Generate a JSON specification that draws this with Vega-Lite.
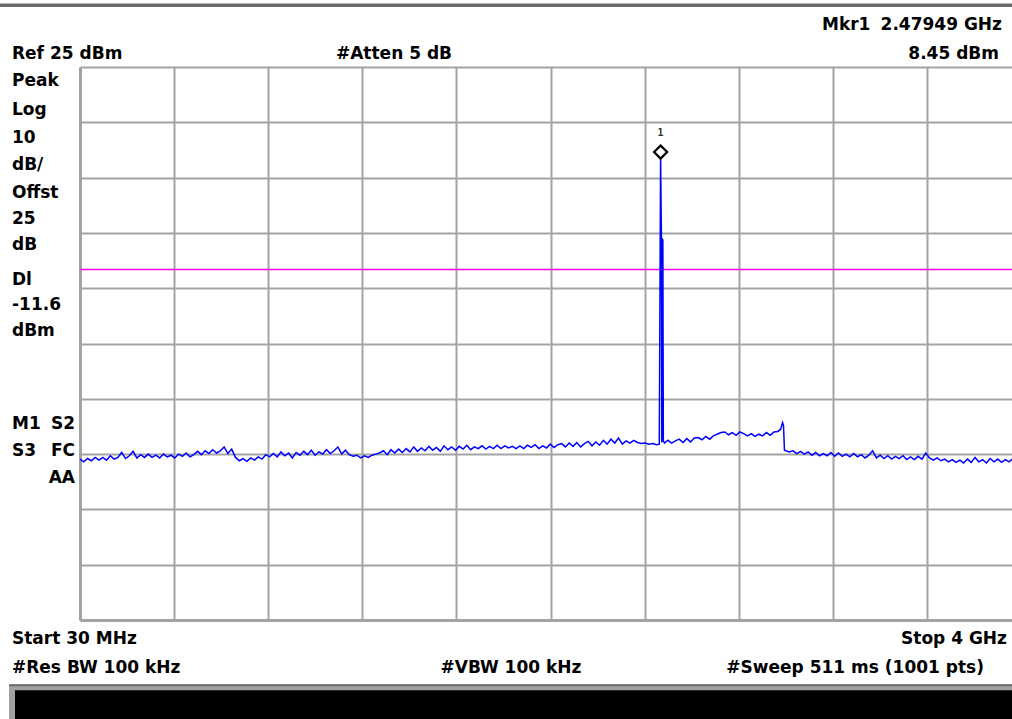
{
  "$schema": "https://vega.github.io/schema/vega-lite/v6.json",
  "width": 932,
  "height": 553,
  "autosize": {"type": "none"},
  "padding": {"left": 80, "top": 67, "right": 0, "bottom": 99},
  "background": "white",
  "config": {
    "view": {"stroke": null},
    "axis": {"labels": false, "ticks": false, "domain": false, "grid": true, "gridColor": "#a3a3a3", "gridWidth": 2, "gridOpacity": 1},
    "text": {"font": "DejaVu Sans", "fontWeight": "bold", "fontSize": 17, "color": "black", "baseline": "middle"}
  },
  "datasets": {
    "trace": [
      {"f":30,"p":-45.9},{"f":46,"p":-46.4},{"f":62,"p":-45.8},{"f":78,"p":-46.2},{"f":94,"p":-45.6},{"f":110,"p":-46.1},{"f":126,"p":-45.6},{"f":142,"p":-46.1},{"f":158,"p":-45.3},{"f":174,"p":-45.9},
      {"f":190,"p":-45.6},{"f":206,"p":-44.7},{"f":222,"p":-45.8},{"f":238,"p":-45.3},{"f":254,"p":-44.5},{"f":270,"p":-45.7},{"f":286,"p":-45.1},{"f":302,"p":-45.6},{"f":318,"p":-45.0},{"f":334,"p":-45.6},
      {"f":350,"p":-45.2},{"f":366,"p":-45.7},{"f":382,"p":-45.0},{"f":398,"p":-45.5},{"f":414,"p":-45.2},{"f":430,"p":-45.7},{"f":446,"p":-45.0},{"f":462,"p":-45.4},{"f":478,"p":-44.8},{"f":494,"p":-45.5},
      {"f":510,"p":-45.1},{"f":526,"p":-44.5},{"f":542,"p":-45.1},{"f":558,"p":-44.4},{"f":574,"p":-44.9},{"f":590,"p":-44.2},{"f":606,"p":-44.8},{"f":622,"p":-44.4},{"f":638,"p":-43.7},{"f":654,"p":-44.9},
      {"f":670,"p":-44.1},{"f":686,"p":-45.6},{"f":702,"p":-46.2},{"f":718,"p":-45.8},{"f":734,"p":-46.3},{"f":750,"p":-45.7},{"f":766,"p":-46.1},{"f":782,"p":-45.5},{"f":798,"p":-45.9},{"f":814,"p":-45.1},
      {"f":830,"p":-45.5},{"f":846,"p":-44.9},{"f":862,"p":-45.5},{"f":878,"p":-44.6},{"f":894,"p":-45.3},{"f":910,"p":-44.8},{"f":926,"p":-45.7},{"f":942,"p":-44.7},{"f":958,"p":-45.2},{"f":974,"p":-44.5},
      {"f":990,"p":-45.1},{"f":1006,"p":-44.3},{"f":1022,"p":-45.2},{"f":1038,"p":-44.6},{"f":1054,"p":-45.0},{"f":1070,"p":-44.2},{"f":1086,"p":-44.9},{"f":1102,"p":-44.4},{"f":1118,"p":-43.7},{"f":1134,"p":-45.0},
      {"f":1150,"p":-44.3},{"f":1166,"p":-45.1},{"f":1182,"p":-45.4},{"f":1198,"p":-45.2},{"f":1214,"p":-45.7},{"f":1230,"p":-45.3},{"f":1246,"p":-45.6},{"f":1262,"p":-45.2},{"f":1278,"p":-45.0},{"f":1294,"p":-44.8},
      {"f":1310,"p":-44.4},{"f":1326,"p":-45.1},{"f":1342,"p":-44.2},{"f":1358,"p":-44.8},{"f":1374,"p":-44.1},{"f":1390,"p":-44.7},{"f":1406,"p":-44.0},{"f":1422,"p":-44.6},{"f":1438,"p":-43.7},{"f":1454,"p":-44.5},
      {"f":1470,"p":-43.9},{"f":1486,"p":-44.4},{"f":1502,"p":-43.6},{"f":1518,"p":-44.3},{"f":1534,"p":-43.8},{"f":1550,"p":-44.5},{"f":1566,"p":-43.5},{"f":1582,"p":-44.2},{"f":1598,"p":-43.7},{"f":1614,"p":-44.3},
      {"f":1630,"p":-43.6},{"f":1646,"p":-44.1},{"f":1662,"p":-43.4},{"f":1678,"p":-44.2},{"f":1694,"p":-43.7},{"f":1710,"p":-44.0},{"f":1726,"p":-43.5},{"f":1742,"p":-44.1},{"f":1758,"p":-43.6},{"f":1774,"p":-44.0},
      {"f":1790,"p":-43.4},{"f":1806,"p":-44.0},{"f":1822,"p":-43.5},{"f":1838,"p":-43.9},{"f":1854,"p":-43.6},{"f":1870,"p":-44.0},{"f":1886,"p":-43.5},{"f":1902,"p":-44.0},{"f":1918,"p":-43.4},{"f":1934,"p":-43.8},
      {"f":1950,"p":-43.3},{"f":1966,"p":-44.0},{"f":1982,"p":-43.5},{"f":1998,"p":-43.9},{"f":2014,"p":-43.2},{"f":2030,"p":-43.8},{"f":2046,"p":-43.3},{"f":2062,"p":-43.1},{"f":2078,"p":-43.7},{"f":2094,"p":-43.0},
      {"f":2110,"p":-43.6},{"f":2126,"p":-42.9},{"f":2142,"p":-43.7},{"f":2158,"p":-43.1},{"f":2174,"p":-42.7},{"f":2190,"p":-43.5},{"f":2206,"p":-42.8},{"f":2222,"p":-43.4},{"f":2238,"p":-42.5},{"f":2254,"p":-43.2},
      {"f":2270,"p":-42.3},{"f":2286,"p":-43.0},{"f":2302,"p":-42.1},{"f":2318,"p":-43.2},{"f":2334,"p":-42.6},{"f":2350,"p":-43.0},{"f":2366,"p":-42.5},{"f":2382,"p":-42.9},{"f":2398,"p":-43.1},{"f":2414,"p":-43.0},
      {"f":2430,"p":-43.2},{"f":2446,"p":-43.1},{"f":2462,"p":-43.3},{"f":2474,"p":-43.2},{"f":2479.49,"p":8.45},{"f":2483,"p":-6.1},{"f":2484.5,"p":-42.9},{"f":2486,"p":-6.0},{"f":2489,"p":-6.3},{"f":2491,"p":-42.6},{"f":2496,"p":-43.0},
      {"f":2510,"p":-42.5},{"f":2526,"p":-43.0},{"f":2542,"p":-42.6},{"f":2558,"p":-42.3},{"f":2574,"p":-42.9},{"f":2590,"p":-42.2},{"f":2606,"p":-42.8},{"f":2622,"p":-42.1},{"f":2638,"p":-42.0},{"f":2654,"p":-42.4},
      {"f":2670,"p":-41.8},{"f":2686,"p":-42.3},{"f":2702,"p":-41.7},{"f":2718,"p":-41.4},{"f":2734,"p":-41.1},{"f":2750,"p":-41.0},{"f":2766,"p":-41.5},{"f":2782,"p":-41.1},{"f":2798,"p":-41.6},{"f":2814,"p":-41.0},
      {"f":2830,"p":-41.3},{"f":2846,"p":-41.7},{"f":2862,"p":-41.3},{"f":2878,"p":-41.8},{"f":2894,"p":-41.4},{"f":2910,"p":-41.7},{"f":2926,"p":-41.1},{"f":2942,"p":-41.6},{"f":2958,"p":-41.0},{"f":2974,"p":-40.9},
      {"f":2986,"p":-40.5},{"f":2994,"p":-39.3},{"f":2998,"p":-39.8},{"f":3002,"p":-44.3},
      {"f":3022,"p":-44.6},{"f":3038,"p":-44.4},{"f":3054,"p":-44.9},{"f":3070,"p":-44.5},{"f":3086,"p":-45.0},{"f":3102,"p":-44.6},{"f":3118,"p":-45.2},{"f":3134,"p":-44.7},{"f":3150,"p":-45.3},{"f":3166,"p":-44.9},
      {"f":3182,"p":-45.3},{"f":3198,"p":-44.7},{"f":3214,"p":-45.4},{"f":3230,"p":-44.8},{"f":3246,"p":-45.4},{"f":3262,"p":-45.0},{"f":3278,"p":-45.5},{"f":3294,"p":-44.9},{"f":3310,"p":-45.5},{"f":3326,"p":-45.1},
      {"f":3342,"p":-45.7},{"f":3358,"p":-45.2},{"f":3374,"p":-44.4},{"f":3390,"p":-45.7},{"f":3406,"p":-45.2},{"f":3422,"p":-45.8},{"f":3438,"p":-45.3},{"f":3454,"p":-45.9},{"f":3470,"p":-45.4},{"f":3486,"p":-45.8},
      {"f":3502,"p":-45.3},{"f":3518,"p":-46.0},{"f":3534,"p":-45.5},{"f":3550,"p":-46.0},{"f":3566,"p":-45.4},{"f":3582,"p":-45.9},{"f":3598,"p":-44.8},{"f":3614,"p":-45.7},{"f":3630,"p":-46.1},{"f":3646,"p":-45.7},
      {"f":3662,"p":-46.2},{"f":3678,"p":-45.9},{"f":3694,"p":-46.4},{"f":3710,"p":-46.0},{"f":3726,"p":-46.5},{"f":3742,"p":-46.1},{"f":3758,"p":-46.6},{"f":3774,"p":-45.9},{"f":3790,"p":-46.5},{"f":3806,"p":-45.6},
      {"f":3822,"p":-46.4},{"f":3838,"p":-46.0},{"f":3854,"p":-46.6},{"f":3870,"p":-45.8},{"f":3886,"p":-46.4},{"f":3902,"p":-45.9},{"f":3918,"p":-46.5},{"f":3934,"p":-46.0},{"f":3950,"p":-46.4},{"f":3966,"p":-45.8},
      {"f":3982,"p":-46.3},{"f":3998,"p":-46.0},{"f":4000,"p":-46.1}
    ],
    "marker": [{"f": 2479.49, "p": 8.45, "id": "1"}],
    "display": [{"p": -11.6}],
    "one": [{}]
  },
  "layer": [
    {
      "data": {"name": "display"},
      "mark": {"type": "rule", "color": "#ff00ff", "strokeWidth": 1.5},
      "encoding": {
        "y": {"field": "p", "type": "quantitative", "title": null,
              "scale": {"domain": [-75, 25], "nice": false, "zero": false},
              "axis": {"values": [-75, -65, -55, -45, -35, -25, -15, -5, 5, 15, 25], "domain": true, "domainColor": "#a3a3a3", "domainWidth": 3}}
      }
    },
    {
      "data": {"name": "trace"},
      "mark": {"type": "line", "color": "#0000ff", "strokeWidth": 1.5, "interpolate": "linear"},
      "encoding": {
        "x": {"field": "f", "type": "quantitative", "title": null,
              "scale": {"domain": [30, 3962], "nice": false, "zero": false},
              "axis": {"values": [30, 427, 824, 1221, 1618, 2015, 2412, 2809, 3206, 3603], "domain": true, "domainColor": "#a3a3a3", "domainWidth": 3}},
        "y": {"field": "p", "type": "quantitative", "title": null,
              "scale": {"domain": [-75, 25], "nice": false, "zero": false},
              "axis": {"values": [-75, -65, -55, -45, -35, -25, -15, -5, 5, 15, 25], "domain": true, "domainColor": "#a3a3a3", "domainWidth": 3}}
      }
    },
    {
      "data": {"name": "marker"},
      "mark": {"type": "point", "shape": "diamond", "filled": false, "stroke": "black", "strokeWidth": 2.3, "size": 170, "yOffset": -6.5, "opacity": 1},
      "encoding": {
        "x": {"field": "f", "type": "quantitative", "title": null},
        "y": {"field": "p", "type": "quantitative", "title": null}
      }
    },
    {
      "data": {"name": "marker"},
      "mark": {"type": "text", "font": "DejaVu Sans Mono", "fontWeight": "bold", "fontSize": 10, "yOffset": -26, "color": "#333333"},
      "encoding": {
        "x": {"field": "f", "type": "quantitative", "title": null},
        "y": {"field": "p", "type": "quantitative", "title": null},
        "text": {"field": "id"}
      }
    },
    {"data": {"name": "one"}, "mark": {"type": "rect", "color": "#6a6a6a"},
     "encoding": {"x": {"datum": -400, "type": "quantitative", "title": null}, "x2": {"datum": 4100}, "y": {"datum": 36.5, "type": "quantitative", "title": null}, "y2": {"datum": 35.85}}},
    {"data": {"name": "one"}, "mark": {"type": "rect", "color": "#a0a0a0"},
     "encoding": {"x": {"datum": -269.5, "type": "quantitative", "title": null}, "x2": {"datum": 4100}, "y": {"datum": -86.6, "type": "quantitative", "title": null}, "y2": {"datum": -96}}},
    {"data": {"name": "one"}, "mark": {"type": "rect", "color": "#6e6e6e"},
     "encoding": {"x": {"datum": -269.5, "type": "quantitative", "title": null}, "x2": {"datum": 4100}, "y": {"datum": -86.6, "type": "quantitative", "title": null}, "y2": {"datum": -87.0}}},
    {"data": {"name": "one"}, "mark": {"type": "rect", "color": "#000000"},
     "encoding": {"x": {"datum": -244.2, "type": "quantitative", "title": null}, "x2": {"datum": 4100}, "y": {"datum": -87.7, "type": "quantitative", "title": null}, "y2": {"datum": -96}}},

    {"data": {"name": "one"}, "mark": {"type": "text", "text": "Ref 25 dBm", "align": "left"},
     "encoding": {"x": {"datum": -256.9, "type": "quantitative", "title": null}, "y": {"datum": 27.4, "type": "quantitative", "title": null}}},
    {"data": {"name": "one"}, "mark": {"type": "text", "text": "#Atten 5 dB", "align": "center"},
     "encoding": {"x": {"datum": 1354.7, "type": "quantitative", "title": null}, "y": {"datum": 27.4, "type": "quantitative", "title": null}}},
    {"data": {"name": "one"}, "mark": {"type": "text", "text": "Mkr1", "align": "left"},
     "encoding": {"x": {"datum": 3160.4, "type": "quantitative", "title": null}, "y": {"datum": 32.6, "type": "quantitative", "title": null}}},
    {"data": {"name": "one"}, "mark": {"type": "text", "text": "2.47949 GHz", "align": "right"},
     "encoding": {"x": {"datum": 3919.8, "type": "quantitative", "title": null}, "y": {"datum": 32.6, "type": "quantitative", "title": null}}},
    {"data": {"name": "one"}, "mark": {"type": "text", "text": "8.45 dBm", "align": "right"},
     "encoding": {"x": {"datum": 3907.2, "type": "quantitative", "title": null}, "y": {"datum": 27.4, "type": "quantitative", "title": null}}},

    {"data": {"name": "one"}, "mark": {"type": "text", "text": "Peak", "align": "left"},
     "encoding": {"x": {"datum": -256.9, "type": "quantitative", "title": null}, "y": {"datum": 22.5, "type": "quantitative", "title": null}}},
    {"data": {"name": "one"}, "mark": {"type": "text", "text": "Log", "align": "left"},
     "encoding": {"x": {"datum": -256.9, "type": "quantitative", "title": null}, "y": {"datum": 17.3, "type": "quantitative", "title": null}}},
    {"data": {"name": "one"}, "mark": {"type": "text", "text": "10", "align": "left"},
     "encoding": {"x": {"datum": -256.9, "type": "quantitative", "title": null}, "y": {"datum": 12.2, "type": "quantitative", "title": null}}},
    {"data": {"name": "one"}, "mark": {"type": "text", "text": "dB/", "align": "left"},
     "encoding": {"x": {"datum": -256.9, "type": "quantitative", "title": null}, "y": {"datum": 7.3, "type": "quantitative", "title": null}}},
    {"data": {"name": "one"}, "mark": {"type": "text", "text": "Offst", "align": "left"},
     "encoding": {"x": {"datum": -256.9, "type": "quantitative", "title": null}, "y": {"datum": 2.3, "type": "quantitative", "title": null}}},
    {"data": {"name": "one"}, "mark": {"type": "text", "text": "25", "align": "left"},
     "encoding": {"x": {"datum": -256.9, "type": "quantitative", "title": null}, "y": {"datum": -2.4, "type": "quantitative", "title": null}}},
    {"data": {"name": "one"}, "mark": {"type": "text", "text": "dB", "align": "left"},
     "encoding": {"x": {"datum": -256.9, "type": "quantitative", "title": null}, "y": {"datum": -7.1, "type": "quantitative", "title": null}}},
    {"data": {"name": "one"}, "mark": {"type": "text", "text": "Dl", "align": "left"},
     "encoding": {"x": {"datum": -256.9, "type": "quantitative", "title": null}, "y": {"datum": -13.6, "type": "quantitative", "title": null}}},
    {"data": {"name": "one"}, "mark": {"type": "text", "text": "-11.6", "align": "left"},
     "encoding": {"x": {"datum": -256.9, "type": "quantitative", "title": null}, "y": {"datum": -18.0, "type": "quantitative", "title": null}}},
    {"data": {"name": "one"}, "mark": {"type": "text", "text": "dBm", "align": "left"},
     "encoding": {"x": {"datum": -256.9, "type": "quantitative", "title": null}, "y": {"datum": -22.7, "type": "quantitative", "title": null}}},
    {"data": {"name": "one"}, "mark": {"type": "text", "text": "M1", "align": "left"},
     "encoding": {"x": {"datum": -256.9, "type": "quantitative", "title": null}, "y": {"datum": -39.5, "type": "quantitative", "title": null}}},
    {"data": {"name": "one"}, "mark": {"type": "text", "text": "S2", "align": "right"},
     "encoding": {"x": {"datum": 8.9, "type": "quantitative", "title": null}, "y": {"datum": -39.5, "type": "quantitative", "title": null}}},
    {"data": {"name": "one"}, "mark": {"type": "text", "text": "S3", "align": "left"},
     "encoding": {"x": {"datum": -256.9, "type": "quantitative", "title": null}, "y": {"datum": -44.4, "type": "quantitative", "title": null}}},
    {"data": {"name": "one"}, "mark": {"type": "text", "text": "FC", "align": "right"},
     "encoding": {"x": {"datum": 8.9, "type": "quantitative", "title": null}, "y": {"datum": -44.4, "type": "quantitative", "title": null}}},
    {"data": {"name": "one"}, "mark": {"type": "text", "text": "AA", "align": "right"},
     "encoding": {"x": {"datum": 8.9, "type": "quantitative", "title": null}, "y": {"datum": -49.4, "type": "quantitative", "title": null}}},

    {"data": {"name": "one"}, "mark": {"type": "text", "text": "Start 30 MHz", "align": "left"},
     "encoding": {"x": {"datum": -256.9, "type": "quantitative", "title": null}, "y": {"datum": -78.4, "type": "quantitative", "title": null}}},
    {"data": {"name": "one"}, "mark": {"type": "text", "text": "Stop 4 GHz", "align": "right"},
     "encoding": {"x": {"datum": 3940.9, "type": "quantitative", "title": null}, "y": {"datum": -78.4, "type": "quantitative", "title": null}}},
    {"data": {"name": "one"}, "mark": {"type": "text", "text": "#Res BW 100 kHz", "align": "left"},
     "encoding": {"x": {"datum": -256.9, "type": "quantitative", "title": null}, "y": {"datum": -83.6, "type": "quantitative", "title": null}}},
    {"data": {"name": "one"}, "mark": {"type": "text", "text": "#VBW 100 kHz", "align": "center"},
     "encoding": {"x": {"datum": 1848.3, "type": "quantitative", "title": null}, "y": {"datum": -83.6, "type": "quantitative", "title": null}}},
    {"data": {"name": "one"}, "mark": {"type": "text", "text": "#Sweep 511 ms (1001 pts)", "align": "right"},
     "encoding": {"x": {"datum": 3843.9, "type": "quantitative", "title": null}, "y": {"datum": -83.6, "type": "quantitative", "title": null}}}
  ]
}
